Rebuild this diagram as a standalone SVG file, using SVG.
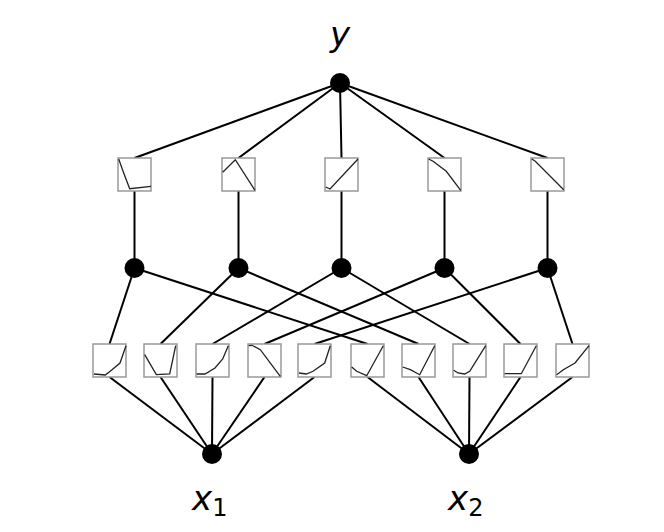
<svg xmlns="http://www.w3.org/2000/svg" width="664" height="532" viewBox="0 0 664 532">
<style>
.e{stroke:#000;stroke-width:2;fill:none}
.n{fill:#000}
.b{fill:#fff;stroke:#999;stroke-width:1.5}
.c{fill:none;stroke:#222;stroke-width:1.3}
.t{font-family:"DejaVu Sans",sans-serif;font-style:italic;font-size:34px;fill:#000}
.s{font-style:normal;font-size:24px}
</style>
<rect width="664" height="532" fill="#fff"/>
<g id="connectors">
<line class="e" x1="340" y1="83" x2="134.5" y2="158"/>
<line class="e" x1="340" y1="83" x2="238.5" y2="158"/>
<line class="e" x1="340" y1="83" x2="341.5" y2="158"/>
<line class="e" x1="340" y1="83" x2="444.5" y2="158"/>
<line class="e" x1="340" y1="83" x2="547.5" y2="158"/>
<line class="e" x1="134.5" y1="191" x2="134.5" y2="268"/>
<line class="e" x1="238.5" y1="191" x2="238.5" y2="268"/>
<line class="e" x1="341.5" y1="191" x2="341.5" y2="268"/>
<line class="e" x1="444.5" y1="191" x2="444.5" y2="268"/>
<line class="e" x1="547.5" y1="191" x2="547.5" y2="268"/>
<line class="e" x1="134.5" y1="268" x2="109.5" y2="344"/>
<line class="e" x1="238.5" y1="268" x2="160.5" y2="344"/>
<line class="e" x1="341.5" y1="268" x2="212.5" y2="344"/>
<line class="e" x1="444.5" y1="268" x2="264.5" y2="344"/>
<line class="e" x1="547.5" y1="268" x2="314.5" y2="344"/>
<line class="e" x1="134.5" y1="268" x2="367.5" y2="344"/>
<line class="e" x1="238.5" y1="268" x2="418.5" y2="344"/>
<line class="e" x1="341.5" y1="268" x2="469.5" y2="344"/>
<line class="e" x1="444.5" y1="268" x2="520.5" y2="344"/>
<line class="e" x1="547.5" y1="268" x2="572.5" y2="344"/>
<line class="e" x1="212" y1="454" x2="109.5" y2="377"/>
<line class="e" x1="212" y1="454" x2="160.5" y2="377"/>
<line class="e" x1="212" y1="454" x2="212.5" y2="377"/>
<line class="e" x1="212" y1="454" x2="264.5" y2="377"/>
<line class="e" x1="212" y1="454" x2="314.5" y2="377"/>
<line class="e" x1="469" y1="454" x2="367.5" y2="377"/>
<line class="e" x1="469" y1="454" x2="418.5" y2="377"/>
<line class="e" x1="469" y1="454" x2="469.5" y2="377"/>
<line class="e" x1="469" y1="454" x2="520.5" y2="377"/>
<line class="e" x1="469" y1="454" x2="572.5" y2="377"/>
</g>
<g id="top-boxes">
<g id="t1" transform="translate(118,158)"><rect class="b" width="33" height="33"/><polyline class="c" points="0.7,1 5.7,15 11.7,30.7 33,28.3"/></g>
<g id="t2" transform="translate(222,158)"><rect class="b" width="33" height="33"/><polyline class="c" points="0.7,14.3 5,10 13.3,1.7 33,32.3"/></g>
<g id="t3" transform="translate(325,158)"><rect class="b" width="33" height="33"/><polyline class="c" points="0.7,29 5,31 33,1"/></g>
<g id="t4" transform="translate(428,158)"><rect class="b" width="33" height="33"/><polyline class="c" points="0.7,1 5,3.3 18.3,13.3 32.7,32.3"/></g>
<g id="t5" transform="translate(531,158)"><rect class="b" width="33" height="33"/><polyline class="c" points="0.7,1 4.3,3.3 32.7,31.7"/></g>
</g>
<g id="bottom-boxes">
<g id="b1" transform="translate(93,344)"><rect class="b" width="33" height="33"/><polyline class="c" points="1,30 12.3,31 19,25.7 27,19 33,1.7"/></g>
<g id="b2" transform="translate(144,344)"><rect class="b" width="33" height="33"/><polyline class="c" points="0.7,10.7 12.3,30.7 25.7,30 31.7,1.7"/></g>
<g id="b3" transform="translate(196,344)"><rect class="b" width="33" height="33"/><polyline class="c" points="0.7,30 9,30 19,24 26.7,15 32.3,1.7"/></g>
<g id="b4" transform="translate(248,344)"><rect class="b" width="33" height="33"/><polyline class="c" points="0.7,1.7 4,1.3 12.3,5.7 32.3,32.3"/></g>
<g id="b5" transform="translate(298,344)"><rect class="b" width="33" height="33"/><polyline class="c" points="1,29 8.3,30 15,27.3 26.7,19 32.3,1.7"/></g>
<g id="b6" transform="translate(351,344)"><rect class="b" width="33" height="33"/><polyline class="c" points="0.7,23 5.7,27.3 15.7,31.7 32.3,1.7"/></g>
<g id="b7" transform="translate(402,344)"><rect class="b" width="33" height="33"/><polyline class="c" points="0.7,23 8.3,25.7 17.7,30.7 32.7,1.7"/></g>
<g id="b8" transform="translate(453,344)"><rect class="b" width="33" height="33"/><polyline class="c" points="0.7,26.3 5,29 11.7,30 16.7,27.3 32.7,1.7"/></g>
<g id="b9" transform="translate(504,344)"><rect class="b" width="33" height="33"/><polyline class="c" points="0.7,29.7 17.3,29.7 32.3,1.7"/></g>
<g id="b10" transform="translate(556,344)"><rect class="b" width="33" height="33"/><polyline class="c" points="0.7,30.7 7.3,25.7 19,19 33,1.7"/></g>
</g>
<g id="out"><circle class="n" cx="340" cy="83" r="10"/><text class="t" x="340" y="46" text-anchor="middle">y</text></g>
<g id="hidden">
<circle class="n" cx="134.5" cy="268" r="10"/>
<circle class="n" cx="238.5" cy="268" r="10"/>
<circle class="n" cx="341.5" cy="268" r="10"/>
<circle class="n" cx="444.5" cy="268" r="10"/>
<circle class="n" cx="547.5" cy="268" r="10"/>
</g>
<g id="x1"><circle class="n" cx="212" cy="454" r="10"/><text class="t" x="192" y="510">x<tspan class="s" dy="6">1</tspan></text></g>
<g id="x2"><circle class="n" cx="469" cy="454" r="10"/><text class="t" x="448" y="510">x<tspan class="s" dy="6">2</tspan></text></g>
</svg>
